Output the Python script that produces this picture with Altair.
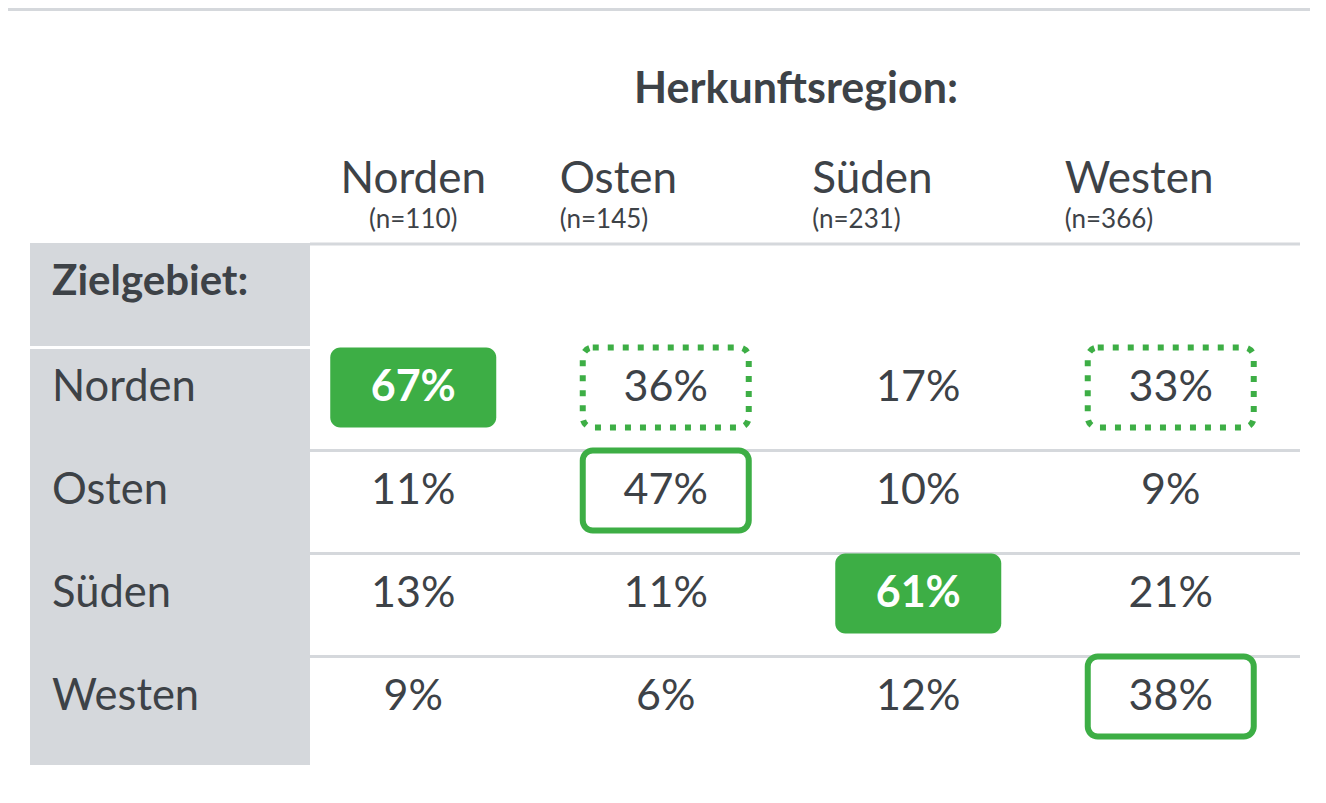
import altair as alt
import pandas as pd

# ---- data ----
herkunft = ["Norden", "Osten", "Süden", "Westen"]
n_werte = [110, 145, 231, 366]
zielgebiet = ["Norden", "Osten", "Süden", "Westen"]
anteil_norden = [67, 36, 17, 33]
anteil_osten = [11, 47, 10, 9]
anteil_sueden = [13, 11, 61, 21]
anteil_westen = [9, 6, 12, 38]
# emphasis: "fill" = green filled box, "solid" = green outline, "dot" = dotted outline, "" = none
hervor_norden = ["fill", "dot", "", "dot"]
hervor_osten = ["", "solid", "", ""]
hervor_sueden = ["", "", "fill", ""]
hervor_westen = ["", "", "", "solid"]

TITLE = "Herkunftsregion:"
ROW_TITLE = "Zielgebiet:"

INK = "#3d4247"
GREEN = "#3dae45"
GREY = "#d5d8dc"
FONT = "Lato"

rows_vals = [anteil_norden, anteil_osten, anteil_sueden, anteil_westen]
rows_emph = [hervor_norden, hervor_osten, hervor_sueden, hervor_westen]
recs = []
for z, vals, emph in zip(zielgebiet, rows_vals, rows_emph):
    for h, v, e in zip(herkunft, vals, emph):
        recs.append({"ziel": z, "herkunft": h, "wert": v, "label": f"{v}%", "emph": e})
cells = pd.DataFrame(recs)
heads = pd.DataFrame({"herkunft": herkunft, "n": [f"(n={n})" for n in n_werte]})
rowlab = pd.DataFrame({"ziel": zielgebiet})
one = pd.DataFrame({"a": [0]})

xs = alt.Scale(domain=herkunft, range=[279, 1289], paddingInner=0, paddingOuter=0)
ys = alt.Scale(domain=zielgebiet, range=[328, 740], paddingInner=0, paddingOuter=0)
X = alt.X("herkunft:N", scale=xs, axis=None)
Y = alt.Y("ziel:N", scale=ys, axis=None)

# decorations
topbar = alt.Chart(one).mark_rect(color=GREY).encode(
    x=alt.value(0), x2=alt.value(1302), y=alt.value(0), y2=alt.value(3))
panel = alt.Chart(one).mark_rect(color=GREY).encode(
    x=alt.value(22), x2=alt.value(302), y=alt.value(235), y2=alt.value(757))
topline = alt.Chart(one).mark_rule(color=GREY, strokeWidth=3).encode(
    x=alt.value(302), x2=alt.value(1292), y=alt.value(236))
sep = alt.Chart(rowlab).transform_filter(alt.datum.ziel != "Norden").mark_rule(
    color=GREY, strokeWidth=3, yOffset=-40).encode(
    y=Y, x=alt.value(302), x2=alt.value(1292))
whiteline = alt.Chart(rowlab).transform_filter(alt.datum.ziel == "Norden").mark_rule(
    color="white", strokeWidth=3, yOffset=-40).encode(
    y=Y, x=alt.value(22), x2=alt.value(302))

title = alt.Chart(one).mark_text(font=FONT, fontSize=43, fontWeight="bold", color=INK,
                                 align="center", baseline="middle").encode(
    x=alt.value(788), y=alt.value(82), text=alt.value(TITLE))
rowtitle = alt.Chart(one).mark_text(font=FONT, fontSize=42, fontWeight="bold", color=INK,
                                    align="left", baseline="middle").encode(
    x=alt.value(44), y=alt.value(274), text=alt.value(ROW_TITLE))

head_c = alt.Chart(heads).transform_filter(alt.datum.herkunft == "Norden").mark_text(
    font=FONT, fontSize=44, color=INK, align="center", baseline="middle").encode(
    x=X, y=alt.value(172), text="herkunft:N")
head_l = alt.Chart(heads).transform_filter(alt.datum.herkunft != "Norden").mark_text(
    font=FONT, fontSize=44, color=INK, align="left", baseline="middle", dx=-106).encode(
    x=X, y=alt.value(172), text="herkunft:N")
n_c = alt.Chart(heads).transform_filter(alt.datum.herkunft == "Norden").mark_text(
    font=FONT, fontSize=26, color=INK, align="center", baseline="middle").encode(
    x=X, y=alt.value(212), text="n:N")
n_l = alt.Chart(heads).transform_filter(alt.datum.herkunft != "Norden").mark_text(
    font=FONT, fontSize=26, color=INK, align="left", baseline="middle", dx=-106).encode(
    x=X, y=alt.value(212), text="n:N")

rowlabels = alt.Chart(rowlab).mark_text(font=FONT, fontSize=43.5, color=INK,
                                        align="left", baseline="middle").encode(
    x=alt.value(44), y=Y, text="ziel:N")

box_fill = alt.Chart(cells).transform_filter(alt.datum.emph == "fill").mark_rect(
    color=GREEN, width=166, height=80, cornerRadius=10).encode(x=X, y=Y)
box_solid = alt.Chart(cells).transform_filter(alt.datum.emph == "solid").mark_rect(
    filled=False, stroke=GREEN, strokeWidth=6, width=166, height=80, cornerRadius=10).encode(x=X, y=Y)
box_dot = alt.Chart(cells).transform_filter(alt.datum.emph == "dot").mark_rect(
    filled=False, stroke=GREEN, strokeWidth=6, strokeDash=[6, 9], width=166, height=80,
    cornerRadius=10).encode(x=X, y=Y)

txt_norm = alt.Chart(cells).transform_filter(alt.datum.emph != "fill").mark_text(
    font=FONT, fontSize=43, color=INK, align="center", baseline="middle").encode(
    x=X, y=Y, text="label:N")
txt_fill = alt.Chart(cells).transform_filter(alt.datum.emph == "fill").mark_text(
    font=FONT, fontSize=43, fontWeight="bold", color="white", align="center",
    baseline="middle").encode(x=X, y=Y, text="label:N")

chart = alt.layer(
    topbar, panel, topline, sep, whiteline, title, rowtitle,
    head_c, head_l, n_c, n_l, rowlabels,
    box_fill, box_solid, box_dot, txt_norm, txt_fill
).properties(
    width=1310, height=787, autosize=alt.AutoSizeParams(type="none"), padding=0
).configure_view(stroke=None)

chart.save("out.html", embed_options={"renderer": "svg", "actions": False})
